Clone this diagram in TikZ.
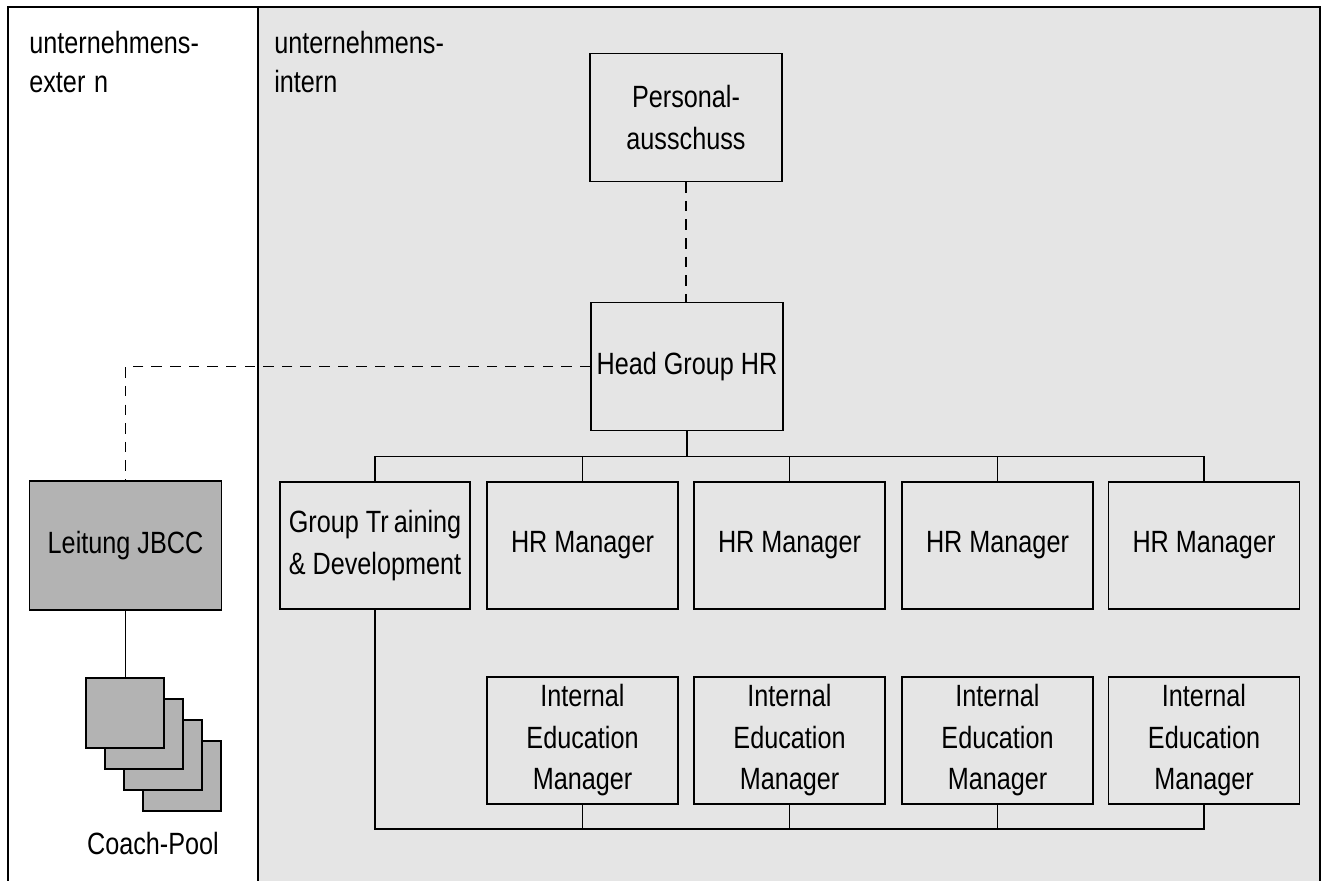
\documentclass[tikz,border=0pt]{standalone}
\usepackage{fontspec}
\setmainfont{Liberation Sans}[FakeStretch=0.82]
\definecolor{panel}{HTML}{E5E5E5}
\definecolor{boxgray}{HTML}{B3B3B3}
\begin{document}
\begin{tikzpicture}[x=0.02cm,y=-0.02cm,
  frame/.style={draw=black,line width=0.9pt},
  ln/.style={draw=black,line width=0.8pt},
  dsh/.style={draw=black,line width=0.8pt,dash pattern=on 6pt off 4.6pt},
  box/.style={draw=black,line width=0.8pt,minimum width=3.82cm,minimum height=2.54cm,
    inner sep=0pt,align=center,font=\fontsize{17.5pt}{23.6pt}\selectfont},
  darkbox/.style={box,fill=boxgray},
  stackbox/.style={draw=black,line width=0.8pt,fill=boxgray,minimum width=1.56cm,minimum height=1.4cm,inner sep=0pt},
  lbl/.style={inner sep=0pt,align=left,font=\fontsize{17.5pt}{22pt}\selectfont}
]
\useasboundingbox (0,0) rectangle (1323,881);
\fill[panel] (258,7) rectangle (1320,881);
\draw[frame] (8,881) -- (8,7) -- (1320,7) -- (1320,881);
\draw[frame] (258,7) -- (258,881);

\node[lbl,anchor=north west] (ext) at (29,31) {unternehmens-\\exter\kern5pt n};
\node[lbl,anchor=north west] (int) at (274,31) {unternehmens-\\intern};

\node[box,minimum width=3.84cm,minimum height=2.56cm] (pers) at (686,117.5) {Personal-\\ausschuss};
\node[box,minimum width=3.84cm,minimum height=2.56cm] (head) at (687,366.5) {Head Group HR};

\node[box,minimum width=3.8cm] (gtd) at (375,545.5) {Group Tr\kern3pt aining\\\& Development};
\node[box] (hr1) at (582.5,545.5) {HR Manager};
\node[box] (hr2) at (789.5,545.5) {HR Manager};
\node[box] (hr3) at (997.5,545.5) {HR Manager};
\node[box] (hr4) at (1204,545.5) {HR Manager};

\node[box] (iem1) at (582.5,740.5) {Internal\\Education\\Manager};
\node[box] (iem2) at (789.5,740.5) {Internal\\Education\\Manager};
\node[box] (iem3) at (997.5,740.5) {Internal\\Education\\Manager};
\node[box] (iem4) at (1204,740.5) {Internal\\Education\\Manager};

\node[darkbox,minimum width=3.84cm,minimum height=2.58cm] (jbcc) at (125.5,545.5) {Leitung JBCC};

\node[stackbox] (c4) at (182,776) {};
\node[stackbox] (c3) at (163,755) {};
\node[stackbox] (c2) at (144,734) {};
\node[stackbox] (c1) at (125,713) {};
\node[lbl,anchor=base] (pool) at (153,855) {Coach-Pool};

% connectors
\draw[dsh] (pers.south) -- (pers.south |- head.north);
\draw[dsh] (head.west) -| (jbcc.north);
\draw[ln] (jbcc.south) -- (jbcc.south |- c1.north);

\coordinate (hb) at (687,456.5);
\draw[ln] (head.south) -- (hb);
\draw[ln] (gtd.north) -- (gtd.north |- hb) -- (hr4.north |- hb) -- (hr4.north);
\foreach \n in {hr1,hr2,hr3} \draw[ln] (\n.north) -- (\n.north |- hb);

\coordinate (bb) at (375,829);
\draw[ln] (gtd.south) -- (bb) -- (iem4.south |- bb) -- (iem4.south);
\foreach \n in {iem1,iem2,iem3} \draw[ln] (\n.south) -- (\n.south |- bb);
\end{tikzpicture}
\end{document}
